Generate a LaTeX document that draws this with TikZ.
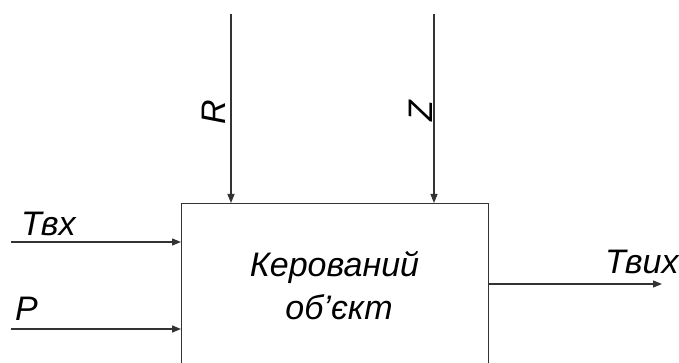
\documentclass[tikz,border=0pt]{standalone}
\usepackage{fontspec}
\setmainfont{Liberation Sans}
\usetikzlibrary{arrows.meta}
\definecolor{ln}{HTML}{333333}
\begin{document}
\begin{tikzpicture}[x=1pt,y=-1pt,
  conn/.style={draw=ln,line width=1.3pt,-{Triangle[length=9pt,width=7pt]}},
  blk/.style={draw=ln,line width=1.3pt,anchor=north west,inner sep=0pt},
  lbl/.style={font=\fontsize{34}{40}\selectfont\itshape,inner sep=0pt,text=black}]
\useasboundingbox (0,0) rectangle (679,363);
\clip (0,0) rectangle (679,363);
\node[blk,minimum width=307pt,minimum height=220pt] (obj) at (181,203) {};
\node[lbl,anchor=base] (l1) at (334.5,276.5) {Керований};
\node[lbl,anchor=base] (l2) at (339,319) {об’єкт};
% inputs
\coordinate (tin) at (11,242);
\coordinate (pin) at (11,329);
\draw[conn] (tin) -- (tin -| obj.west);
\draw[conn] (pin) -- (pin -| obj.west);
\node[lbl,anchor=base west] (tlab) at (21,235) {Твх};
\node[lbl,anchor=base west] (plab) at (15,320) {P};
% top
\coordinate (rin) at (231,14);
\coordinate (zin) at (434,14);
\draw[conn] (rin) -- (rin |- obj.north);
\draw[conn] (zin) -- (zin |- obj.north);
\node[lbl,anchor=base,rotate=90] (rlab) at (225,112.5) {R};
\node[lbl,anchor=base,rotate=90] (zlab) at (432,111.5) {Z};
% output
\coordinate (tout) at (662,284);
\draw[conn] (tout -| obj.east) -- (tout);
\node[lbl,anchor=base west] (tolab) at (605,273) {Твих};
\end{tikzpicture}
\end{document}
